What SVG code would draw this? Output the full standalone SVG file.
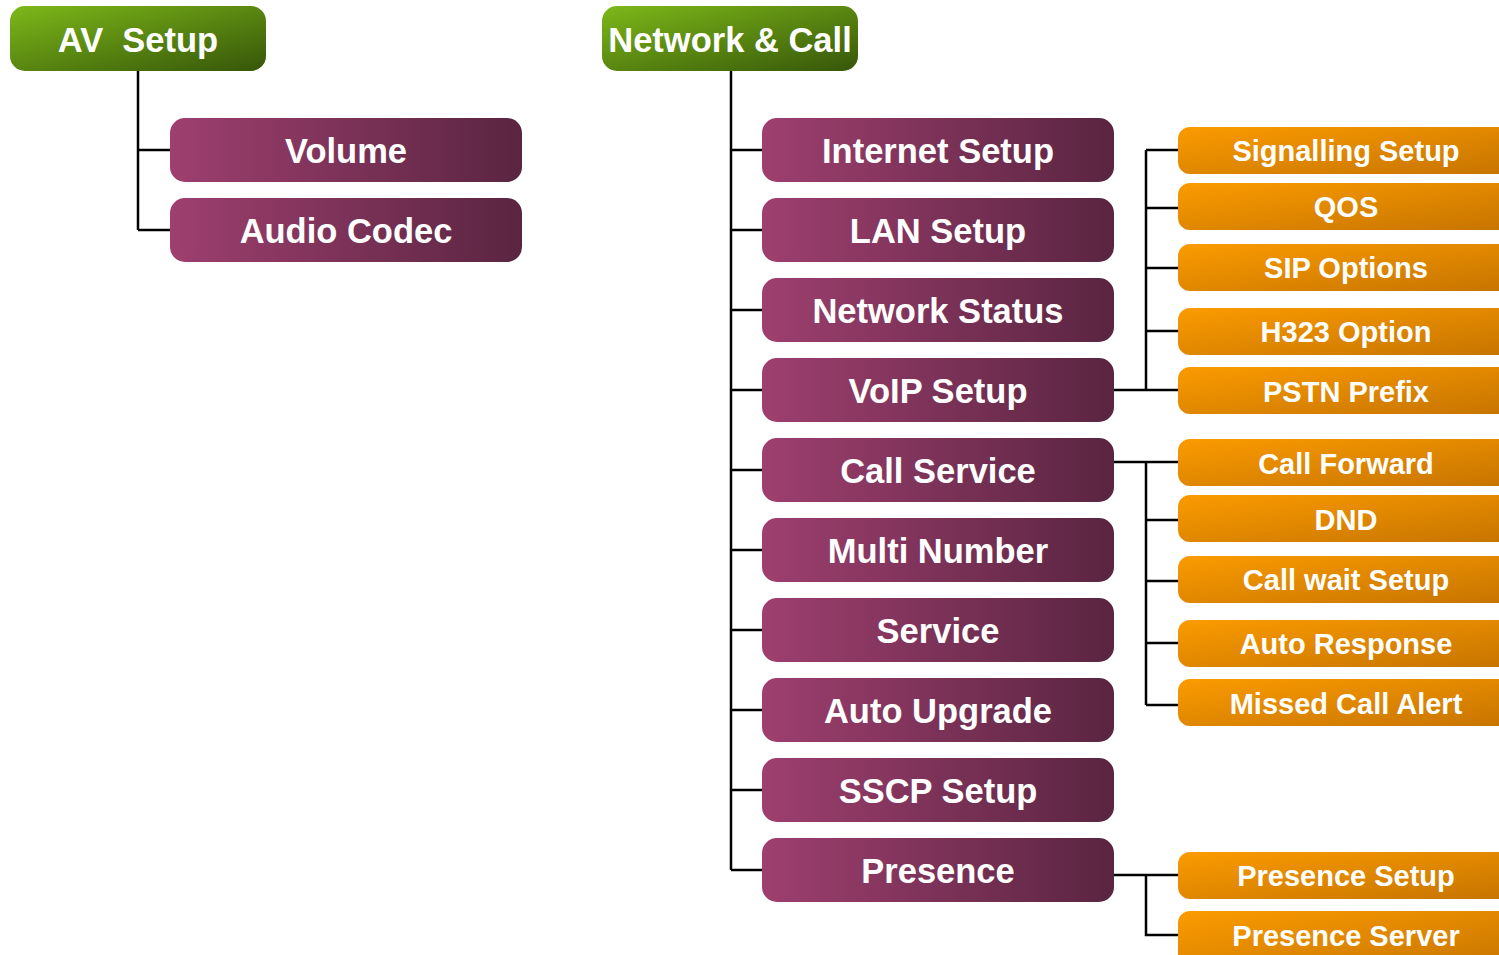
<svg xmlns="http://www.w3.org/2000/svg" width="1499" height="955" viewBox="0 0 1499 955">
<style>
.t{font-family:"Liberation Sans",Arial,sans-serif;font-weight:bold;fill:#fff;text-anchor:middle}
.g{font-size:34.5px}
.p{font-size:34.5px}
.o{font-size:29px}
.c{stroke:#000;stroke-width:2.5;fill:none}
</style>
<defs>
<linearGradient id="gg" x1="0" y1="0" x2="1" y2="1">
<stop offset="0" stop-color="#7db819"/><stop offset="1" stop-color="#365609"/>
</linearGradient>
<linearGradient id="pg" x1="0" y1="0" x2="1" y2="0">
<stop offset="0" stop-color="#9e3f6f"/><stop offset="1" stop-color="#5a2541"/>
</linearGradient>
<linearGradient id="og" x1="0" y1="0" x2="1" y2="1">
<stop offset="0" stop-color="#fb9b00"/><stop offset="1" stop-color="#c67400"/>
</linearGradient>
</defs>
<rect width="1499" height="955" fill="#fff"/>
<g id="connectors" class="c">
<path d="M138 71V230M138 150H170M138 230H170"/>
<path d="M731 71V870M731 150H762M731 230H762M731 310H762M731 390H762M731 470H762M731 550H762M731 630H762M731 710H762M731 790H762M731 870H762"/>
<path d="M1114 390H1178M1146 390V150M1146 150H1178M1146 208H1178M1146 268H1178M1146 331H1178"/>
<path d="M1114 462H1178M1146 462V705M1146 520H1178M1146 581H1178M1146 643H1178M1146 705H1178"/>
<path d="M1114 875H1178M1146 875V935H1178"/>
</g>
<g id="av-setup"><rect x="10" y="6" width="256" height="65" rx="15" fill="url(#gg)"/><text class="t g" x="138" y="52" xml:space="preserve">AV  Setup</text></g>
<g id="network-call"><rect x="602" y="6" width="256" height="65" rx="15" fill="url(#gg)"/><text class="t g" x="730" y="52">Network &amp; Call</text></g>
<g id="volume"><rect x="170" y="118" width="352" height="64" rx="15" fill="url(#pg)"/><text class="t p" x="346" y="163">Volume</text></g>
<g id="audio-codec"><rect x="170" y="198" width="352" height="64" rx="15" fill="url(#pg)"/><text class="t p" x="346" y="243">Audio Codec</text></g>
<g id="internet-setup"><rect x="762" y="118" width="352" height="64" rx="15" fill="url(#pg)"/><text class="t p" x="938" y="163">Internet Setup</text></g>
<g id="lan-setup"><rect x="762" y="198" width="352" height="64" rx="15" fill="url(#pg)"/><text class="t p" x="938" y="243">LAN Setup</text></g>
<g id="network-status"><rect x="762" y="278" width="352" height="64" rx="15" fill="url(#pg)"/><text class="t p" x="938" y="323">Network Status</text></g>
<g id="voip-setup"><rect x="762" y="358" width="352" height="64" rx="15" fill="url(#pg)"/><text class="t p" x="938" y="403">VoIP Setup</text></g>
<g id="call-service"><rect x="762" y="438" width="352" height="64" rx="15" fill="url(#pg)"/><text class="t p" x="938" y="483">Call Service</text></g>
<g id="multi-number"><rect x="762" y="518" width="352" height="64" rx="15" fill="url(#pg)"/><text class="t p" x="938" y="563">Multi Number</text></g>
<g id="service"><rect x="762" y="598" width="352" height="64" rx="15" fill="url(#pg)"/><text class="t p" x="938" y="643">Service</text></g>
<g id="auto-upgrade"><rect x="762" y="678" width="352" height="64" rx="15" fill="url(#pg)"/><text class="t p" x="938" y="723">Auto Upgrade</text></g>
<g id="sscp-setup"><rect x="762" y="758" width="352" height="64" rx="15" fill="url(#pg)"/><text class="t p" x="938" y="803">SSCP Setup</text></g>
<g id="presence"><rect x="762" y="838" width="352" height="64" rx="15" fill="url(#pg)"/><text class="t p" x="938" y="883">Presence</text></g>
<g id="signalling-setup"><rect x="1178" y="127" width="340" height="47" rx="12" fill="url(#og)"/><text class="t o" x="1346" y="161">Signalling Setup</text></g>
<g id="qos"><rect x="1178" y="183" width="340" height="47" rx="12" fill="url(#og)"/><text class="t o" x="1346" y="217">QOS</text></g>
<g id="sip-options"><rect x="1178" y="244" width="340" height="47" rx="12" fill="url(#og)"/><text class="t o" x="1346" y="278">SIP Options</text></g>
<g id="h323-option"><rect x="1178" y="308" width="340" height="47" rx="12" fill="url(#og)"/><text class="t o" x="1346" y="342">H323 Option</text></g>
<g id="pstn-prefix"><rect x="1178" y="367" width="340" height="47" rx="12" fill="url(#og)"/><text class="t o" x="1346" y="402">PSTN Prefix</text></g>
<g id="call-forward"><rect x="1178" y="439" width="340" height="47" rx="12" fill="url(#og)"/><text class="t o" x="1346" y="474">Call Forward</text></g>
<g id="dnd"><rect x="1178" y="495" width="340" height="47" rx="12" fill="url(#og)"/><text class="t o" x="1346" y="530">DND</text></g>
<g id="call-wait-setup"><rect x="1178" y="556" width="340" height="47" rx="12" fill="url(#og)"/><text class="t o" x="1346" y="590">Call wait Setup</text></g>
<g id="auto-response"><rect x="1178" y="620" width="340" height="47" rx="12" fill="url(#og)"/><text class="t o" x="1346" y="654">Auto Response</text></g>
<g id="missed-call-alert"><rect x="1178" y="679" width="340" height="47" rx="12" fill="url(#og)"/><text class="t o" x="1346" y="714">Missed Call Alert</text></g>
<g id="presence-setup"><rect x="1178" y="852" width="340" height="47" rx="12" fill="url(#og)"/><text class="t o" x="1346" y="886">Presence Setup</text></g>
<g id="presence-server"><rect x="1178" y="911" width="340" height="60" rx="12" fill="url(#og)"/><text class="t o" x="1346" y="946">Presence Server</text></g>
</svg>
